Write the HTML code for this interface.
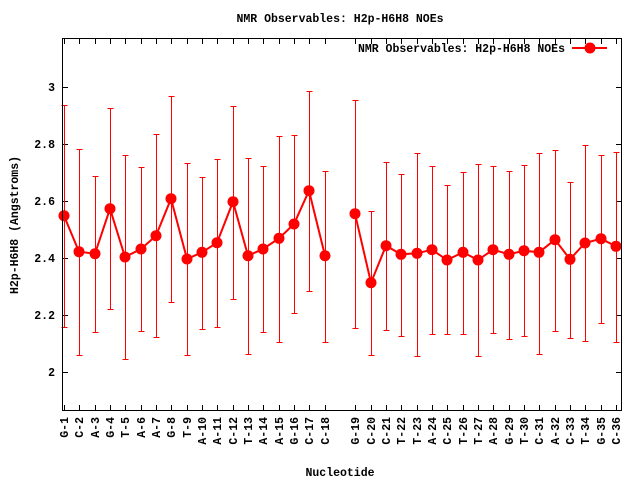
<!DOCTYPE html>
<html><head><meta charset="utf-8"><style>
html,body{margin:0;padding:0;background:#fff;}
svg{display:block;}
text{font-family:"Liberation Mono","DejaVu Sans Mono",monospace;font-size:11.5px;font-weight:bold;fill:#000;}
</style></head><body>
<svg id="s" width="640" height="480" viewBox="0 0 640 480" xmlns="http://www.w3.org/2000/svg">
<rect x="0" y="0" width="640" height="480" fill="#fff"/>
<text x="340" y="22" text-anchor="middle">NMR Observables: H2p-H6H8 NOEs</text>
<text x="340" y="476" text-anchor="middle">Nucleotide</text>
<text transform="translate(18,225) rotate(-90)" text-anchor="middle">H2p-H6H8 (Angstroms)</text>
<text x="565" y="52" text-anchor="end">NMR Observables: H2p-H6H8 NOEs</text>
<line x1="572" y1="48" x2="607" y2="48" stroke="#f00" stroke-width="2"/>
<circle cx="590" cy="48" r="5.5" fill="#f00"/>
<g id="g"></g>
<rect x="62.5" y="38.5" width="559" height="372" fill="none" stroke="#000" stroke-width="1" shape-rendering="crispEdges"/>
</svg>
<script>
var d=[[64,215.7,105,327],[79,251.7,149,355],[95,253.7,176,332],[110,208.7,108,309],[125,257,155,359],[141,249,167,331],[156,235.7,134,337],[171,198.7,96,302],[187,259,163,355],[202,252.3,177,329],[217,242.7,159,327],[233,201.7,106,299],[248,255.7,158,354],[263,249,166,332],[279,238.3,136,342],[294,224,135,313],[309,190.7,91,291],[325,255.7,171,342],
[355,213.7,100,328],[371,282.7,211,355],[386,245.7,162,330],[401,254.3,174,336],[417,253.3,153,356],[432,249.7,166,334],[447,260,185,334],[463,252.3,172,334],[478,260,164,356],[493,249.7,166,333],[509,254.3,171,339],[524,250.7,165,336],[539,252.3,153,354],[555,239.7,150,331],[570,259.3,182,338],[585,243,145,341],[601,238.7,155,323],[616,246.3,152,342]];
var lab=["G-1","C-2","A-3","G-4","T-5","A-6","A-7","G-8","T-9","A-10","A-11","C-12","T-13","A-14","A-15","G-16","C-17","C-18","G-19","C-20","C-21","T-22","T-23","A-24","C-25","T-26","T-27","A-28","G-29","T-30","C-31","A-32","C-33","T-34","G-35","C-36"];
var h='<g shape-rendering="crispEdges">';
[[2,372],[2.2,315],[2.4,258],[2.6,201],[2.8,144],[3,87]].forEach(function(t){
var y=t[1]+0.5;
h+='<line x1="62" y1="'+y+'" x2="68" y2="'+y+'" stroke="#000"/><line x1="616" y1="'+y+'" x2="622" y2="'+y+'" stroke="#000"/>';
});
d.forEach(function(p){
var x=p[0]+0.5,t=p[2]+0.5,b=p[3]+0.5;
h+='<line x1="'+x+'" y1="411" x2="'+x+'" y2="405" stroke="#000"/><line x1="'+x+'" y1="38" x2="'+x+'" y2="44" stroke="#000"/>';
h+='<g stroke="#f00" stroke-width="1"><line x1="'+x+'" y1="'+t+'" x2="'+x+'" y2="'+b+'"/><line x1="'+(x-3)+'" y1="'+t+'" x2="'+(x+3)+'" y2="'+t+'"/><line x1="'+(x-3)+'" y1="'+b+'" x2="'+(x+3)+'" y2="'+b+'"/></g>';
});
h+='</g>';
[[2,372],[2.2,315],[2.4,258],[2.6,201],[2.8,144],[3,87]].forEach(function(t){
h+='<text x="55" y="'+(t[1]+4)+'" text-anchor="end">'+(t[0]==2||t[0]==3?t[0]:t[0].toFixed(1))+'</text>';
});
d.forEach(function(p,i){
h+='<text transform="translate('+(p[0]+4)+',417) rotate(-90)" text-anchor="end">'+lab[i]+'</text>';
});
function pl(a){return '<polyline fill="none" stroke="#f00" stroke-width="2" points="'+a.map(function(p){return p[0]+','+p[1]}).join(' ')+'"/>';}
h+=pl(d.slice(0,18))+pl(d.slice(18));
d.forEach(function(p){h+='<circle cx="'+p[0]+'" cy="'+p[1]+'" r="5.5" fill="#f00"/>';});
document.getElementById('g').innerHTML=h;
</script>
</body></html>
